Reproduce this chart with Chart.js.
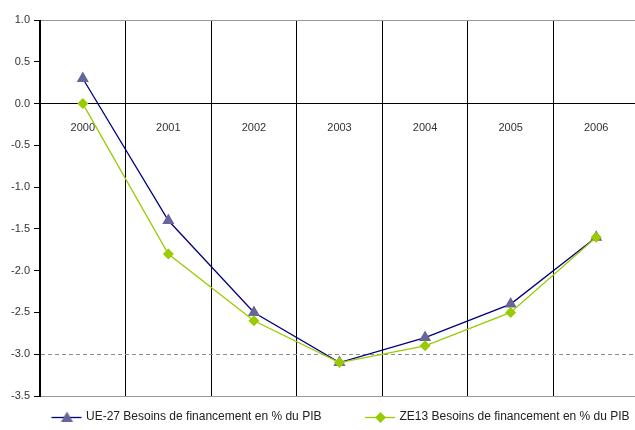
<!DOCTYPE html>
<html>
<head>
<meta charset="utf-8">
<script src="https://cdn.jsdelivr.net/npm/chart.js@4/dist/chart.umd.min.js"></script>
<style>
  html, body { margin: 0; padding: 0; background: #fff; overflow: hidden; }
  #wrap { width: 646px; height: 433px; position: relative; }
</style>
</head>
<body>
<div id="wrap"><canvas id="c"></canvas></div>
<script>
// Years on the category axis
const years = ['2000', '2001', '2002', '2003', '2004', '2005', '2006'];
// Net financing need, % of GDP
const ue27 = [0.3, -1.4, -2.5, -3.1, -2.8, -2.4, -1.6];
const ze13 = [0.0, -1.8, -2.6, -3.1, -2.9, -2.5, -1.6];
const seriesNames = [
  'UE-27 Besoins de financement en % du PIB',
  'ZE13 Besoins de financement en % du PIB'
];
// Value axis
const yMin = -3.5, yMax = 1.0, yStep = 0.5;
// Reference level drawn as a dashed line
const limitValue = -3.0;

const NAVY = '#000080', SLATE = '#666699', LIME = '#99CC00';

// Small line + marker icon used by the legend
function legendIcon(lineColor, markerColor, style, radius) {
  const c = document.createElement('canvas');
  c.width = 72; c.height = 14;
  const g = c.getContext('2d');
  g.strokeStyle = lineColor;
  g.lineWidth = 1.3;
  g.beginPath();
  g.moveTo(41, 7.5);
  g.lineTo(71, 7.5);
  g.stroke();
  g.fillStyle = markerColor;
  g.strokeStyle = markerColor;
  Chart.helpers.drawPoint(g, { pointStyle: style, radius: radius, rotation: 0, borderWidth: 0 }, 56.5, style === 'triangle' ? 8.5 : 7.5);
  return c;
}

// Dashed horizontal reference line across the plot
const limitLine = {
  id: 'limitLine',
  beforeDatasetsDraw(chart) {
    const { ctx, chartArea: a, scales: { y } } = chart;
    const py = Math.round(y.getPixelForValue(limitValue)) + 0.5;
    ctx.save();
    ctx.strokeStyle = '#8c8c8c';
    ctx.lineWidth = 1;
    ctx.setLineDash([4, 3]);
    ctx.beginPath();
    ctx.moveTo(a.left + 1, py);
    ctx.lineTo(a.right, py);
    ctx.stroke();
    ctx.restore();
  }
};

const tickFont = { family: '"Liberation Sans", Arial, sans-serif', size: 11 };

new Chart(document.getElementById('c'), {
  type: 'line',
  data: {
    labels: years,
    datasets: [
      {
        label: seriesNames[0],
        data: ue27,
        borderColor: NAVY,
        borderWidth: 1.3,
        pointStyle: 'triangle',
        pointRadius: 7,
        pointBackgroundColor: SLATE,
        pointBorderColor: SLATE,
        pointBorderWidth: 0,
        tension: 0,
        order: 2
      },
      {
        label: seriesNames[1],
        data: ze13,
        borderColor: LIME,
        borderWidth: 1.3,
        pointStyle: 'rectRot',
        pointRadius: 5.5,
        pointBackgroundColor: LIME,
        pointBorderColor: LIME,
        pointBorderWidth: 0,
        tension: 0,
        order: 1
      }
    ]
  },
  options: {
    responsive: true,
    maintainAspectRatio: false,
    animation: false,
    layout: { padding: { left: 8, right: 0, top: 20, bottom: 0 } },
    plugins: {
      tooltip: { enabled: false },
      legend: {
        position: 'bottom',
        align: 'start',
        title: { display: true, text: ' ', font: { size: 10, lineHeight: 1 }, padding: 0 },
        labels: {
          usePointStyle: true,
          pointStyleWidth: 67,
          padding: 5,
          color: '#222',
          font: { family: '"Liberation Sans", Arial, sans-serif', size: 12 },
          generateLabels(chart) {
            return chart.data.datasets.map((ds, i) => ({
              text: ds.label,
              datasetIndex: i,
              hidden: false,
              lineWidth: 0,
              fontColor: '#222',
              pointStyle: i === 0
                ? legendIcon(NAVY, SLATE, 'triangle', 7)
                : legendIcon(LIME, LIME, 'rectRot', 5.5)
            }));
          }
        }
      }
    },
    scales: {
      x: {
        type: 'category',
        position: { y: 0 },
        offset: true,
        grid: { offset: true, color: '#000', lineWidth: 1, drawTicks: false },
        border: { color: '#000', width: 1 },
        ticks: { font: tickFont, color: '#333', padding: 18, maxRotation: 0, autoSkip: false }
      },
      y: {
        min: yMin,
        max: yMax,
        afterFit(scale) { scale.width = 32; },
        ticks: {
          stepSize: yStep,
          font: tickFont,
          color: '#333',
          padding: 4,
          callback: (v) => Number(v).toFixed(1)
        },
        grid: {
          drawTicks: true,
          tickLength: 6,
          tickColor: '#000',
          lineWidth: 1,
          color: (ctx) => {
            const v = ctx.tick ? ctx.tick.value : null;
            if (v === yMax || v === yMin) return '#999';
            if (v === 0) return '#000';
            return 'rgba(0,0,0,0)';
          }
        },
        border: { color: '#000', width: 1 }
      }
    }
  },
  plugins: [limitLine]
});
</script>
</body>
</html>
